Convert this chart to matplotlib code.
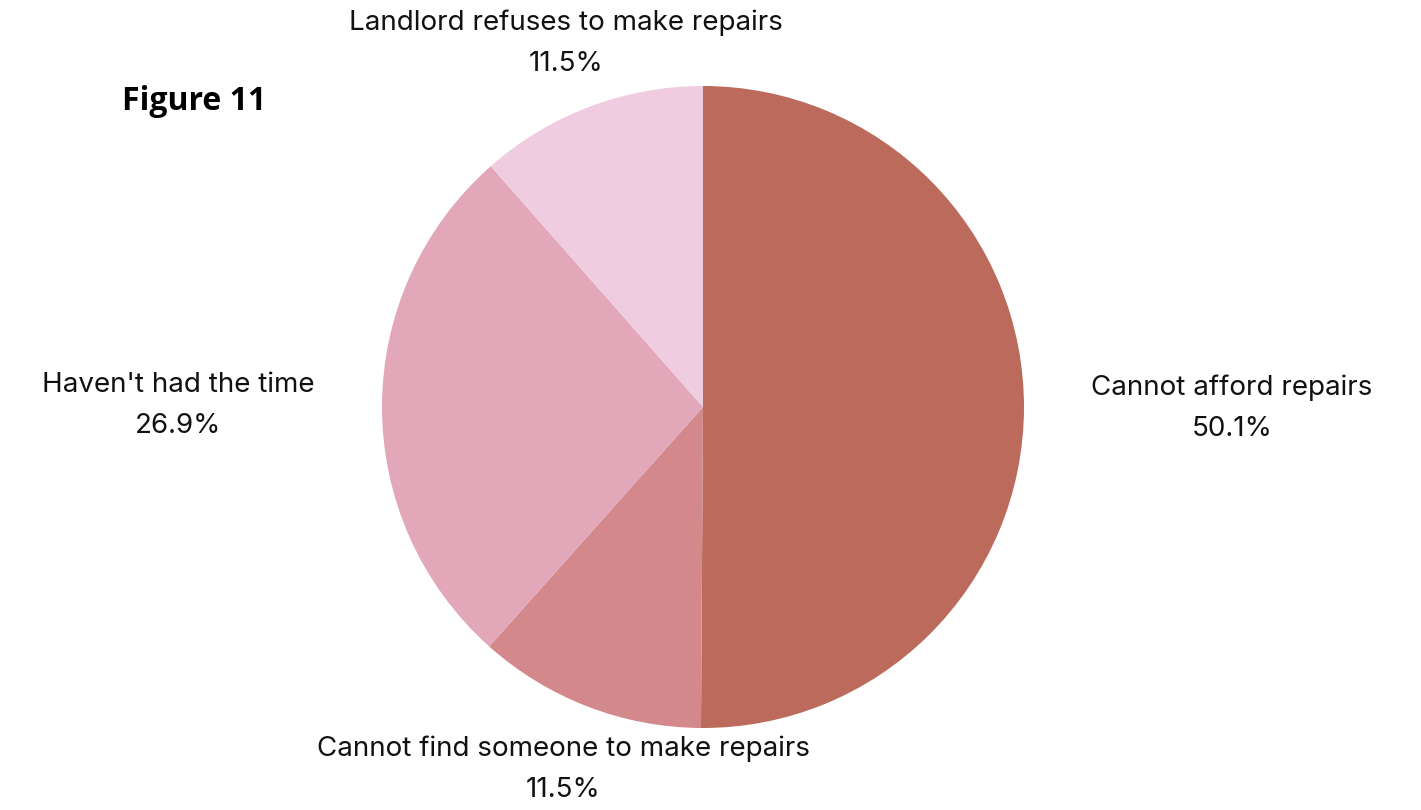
import numpy as np
import matplotlib.pyplot as plt

# Reasons for not making repairs (share of respondents, %)
reasons = ["Cannot afford repairs", "Cannot find someone to make repairs",
           "Haven't had the time", "Landlord refuses to make repairs"]
shares = [50.1, 11.5, 26.9, 11.5]
colors = ["#BB6A5C", "#D3888C", "#E2A7B9", "#F0CCE1"]

fig = plt.figure(figsize=(14.21, 8.10), dpi=100)
W, H = 1421, 810
cx, cy, r = 703, 403, 321
ax = fig.add_axes([(cx - r) / W, (cy - r) / H, 2 * r / W, 2 * r / H])

wedges, _ = ax.pie(shares, colors=colors, startangle=90, counterclock=False,
                   radius=1.0, wedgeprops=dict(linewidth=0))
ax.set_xlim(-1, 1)
ax.set_ylim(-1, 1)
ax.set_aspect("equal")
ax.axis("off")

# labels sit just outside each wedge, at its mid-angle
label_r = 1.21
for w, name, val in zip(wedges, reasons, shares):
    ang = np.deg2rad((w.theta1 + w.theta2) / 2)
    x, y = label_r * np.cos(ang), label_r * np.sin(ang)
    if np.cos(ang) > 0.95:
        ha = "left"
    elif np.cos(ang) < -0.95:
        ha = "right"
    else:
        ha = "center"
    ax.text(x, y, f"{name}\n{val:.1f}%", ha=ha, va="center",
            multialignment="center", fontsize=20, family="Inter",
            fontweight="normal", color="#111111", linespacing=1.75,
            clip_on=False)

fig.text(122 / W, 1 - 101 / H, "Figure 11", ha="left", va="center",
         fontsize=23, fontweight="bold", family="Open Sans", color="black")

fig.savefig("out.png", dpi=100, facecolor="white")
